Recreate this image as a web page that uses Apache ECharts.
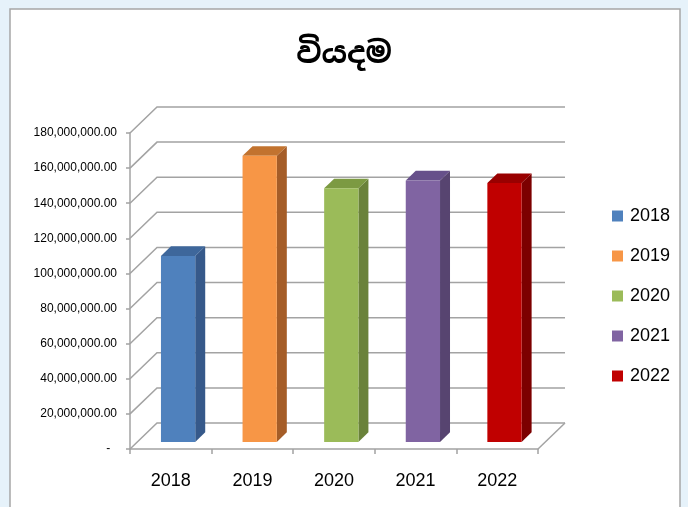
<!DOCTYPE html>
<html>
<head>
<meta charset="utf-8">
<script src="https://cdn.jsdelivr.net/npm/echarts@6/dist/echarts.min.js"></script>
<style>
html,body{margin:0;padding:0;background:#e6f2fa;}
#c{width:688px;height:507px;}
</style>
</head>
<body>
<div id="c"></div>
<script>
// ---- data ----
const titleText = 'වියදම';
const categories = ['2018', '2019', '2020', '2021', '2022'];
const seriesNames = ['2018', '2019', '2020', '2021', '2022'];
const values = [106000000, 163000000, 144500000, 149000000, 147500000];
const yTicks = [0, 20000000, 40000000, 60000000, 80000000, 100000000, 120000000, 140000000, 160000000, 180000000];
const frontColors = ['#4f81bd', '#f79646', '#9bbb59', '#8064a2', '#c00000'];
const sideColors = ['#36598a', '#a55d28', '#6a823a', '#574470', '#7c0000'];
const topColors = ['#3e679b', '#c2732f', '#7c9a42', '#66508a', '#990000'];

// ---- 3D geometry (style) ----
const DX = 27, DY = -26;      // full depth offset of back wall
const T1 = 0.27, T2 = 0.64;   // bar front/back depth fractions
const BAR_W = 0.42;           // fraction of band

function fmt(v) {
  if (v === 0) return '-  ';
  return v.toLocaleString('en-US', {minimumFractionDigits: 2, maximumFractionDigits: 2});
}

const chart = echarts.init(document.getElementById('c'), null, {renderer: 'canvas'});

const gridSeries = {
  type: 'custom',
  name: '__grid',
  silent: true,
  z: 1,
  data: yTicks.map(v => [0, v]),
  renderItem: function (params, api) {
    const cs = params.coordSys;
    const y = api.coord([0, api.value(1)])[1];
    const x0 = cs.x, x1 = cs.x + cs.width;
    const children = [{
      type: 'polyline',
      shape: {points: [[x0, y], [x0 + DX, y + DY], [x1 + DX, y + DY]]},
      style: {stroke: '#a3a3a3', lineWidth: 1.5, fill: null}
    }];
    if (api.value(1) === 0) {
      children.push({
        type: 'line',
        shape: {x1: x1, y1: y, x2: x1 + DX, y2: y + DY},
        style: {stroke: '#a3a3a3', lineWidth: 1.5}
      });
    }
    return {type: 'group', children: children};
  }
};

const barSeries = seriesNames.map((name, i) => ({
  type: 'custom',
  name: name,
  z: 5,
  itemStyle: {color: frontColors[i]},
  data: [[i, values[i]]],
  renderItem: function (params, api) {
    const ci = api.value(0), v = api.value(1);
    const b = api.coord([ci, 0]);
    const t = api.coord([ci, v]);
    const band = api.size([1, 0])[0];
    const w = band * BAR_W;
    const ox = DX * T1, oy = DY * T1;
    const ddx = DX * (T2 - T1), ddy = DY * (T2 - T1);
    const xl = b[0] - w / 2 + ox, xr = xl + w;
    const yt = t[1] + oy, yb = b[1] + oy;
    return {
      type: 'group',
      children: [
        {type: 'polygon', shape: {points: [[xr, yt], [xr + ddx, yt + ddy], [xr + ddx, yb + ddy], [xr, yb]]},
         style: {fill: sideColors[ci]}},
        {type: 'polygon', shape: {points: [[xl, yt], [xr, yt], [xr + ddx, yt + ddy], [xl + ddx, yt + ddy]]},
         style: {fill: topColors[ci]}},
        {type: 'rect', shape: {x: xl, y: yt, width: w, height: yb - yt},
         style: {fill: frontColors[ci]}}
      ]
    };
  }
}));

const option = {
  backgroundColor: '#e6f2fa',
  animation: false,
  graphic: [{
    type: 'rect', z: -10,
    shape: {x: 10, y: 9, width: 670, height: 520},
    style: {fill: '#ffffff', stroke: '#a6a6a6', lineWidth: 1.5}
  }],
  title: {
    text: titleText,
    left: 'center',
    top: 35,
    textStyle: {fontFamily: "'Noto Sans Sinhala', 'Noto Serif Sinhala', 'Iskoola Pota', sans-serif", fontSize: 30, fontWeight: 'bold', color: '#000'}
  },
  legend: {
    orient: 'vertical',
    left: 607,
    top: 202,
    itemWidth: 11,
    itemHeight: 11,
    itemGap: 22,
    icon: 'rect',
    data: seriesNames,
    textStyle: {fontFamily: "'Liberation Sans Narrow', 'Liberation Sans', sans-serif", fontSize: 18, color: '#000', padding: [0,0,0,2]}
  },
  grid: {left: 130, right: 150, top: 133, bottom: 58, containLabel: false},
  xAxis: {
    type: 'category',
    data: categories,
    boundaryGap: true,
    axisLine: {lineStyle: {color: '#a3a3a3', width: 1.5}},
    axisTick: {show: true, length: 5, lineStyle: {color: '#a3a3a3', width: 1.5}},
    axisLabel: {margin: 23, color: '#000', fontSize: 18, fontFamily: "'Liberation Sans Narrow', 'Liberation Sans', sans-serif"},
    splitLine: {show: false}
  },
  yAxis: {
    type: 'value',
    min: 0,
    max: 180000000,
    interval: 20000000,
    axisLine: {show: true, lineStyle: {color: '#a3a3a3', width: 1.5}},
    axisTick: {show: true, length: 4, lineStyle: {color: '#a3a3a3', width: 1.5}},
    axisLabel: {margin: 13, color: '#000', fontSize: 12, fontFamily: "'Liberation Sans', sans-serif", formatter: fmt},
    splitLine: {show: false}
  },
  series: [gridSeries].concat(barSeries)
};
chart.setOption(option);
</script>
</body>
</html>
